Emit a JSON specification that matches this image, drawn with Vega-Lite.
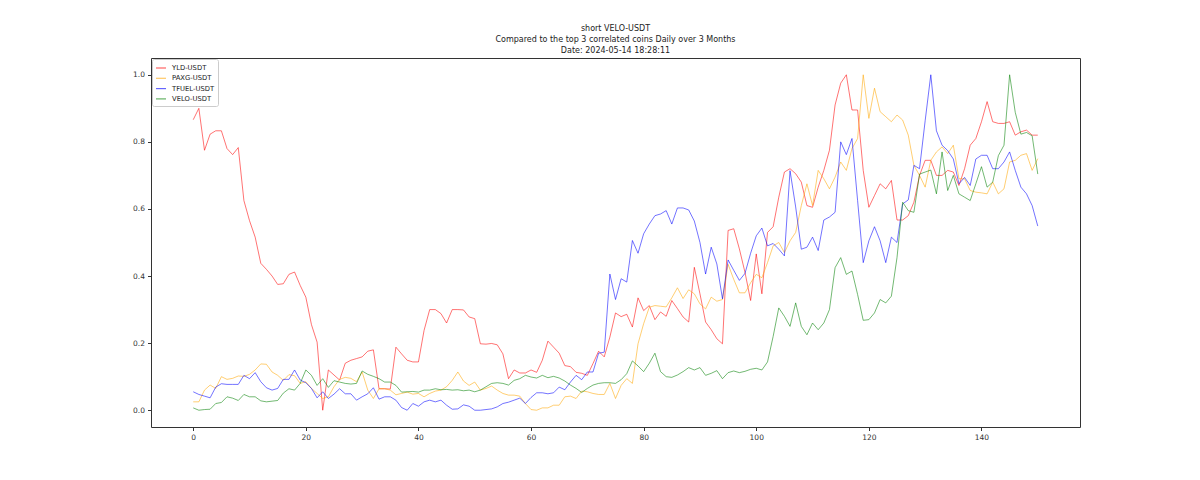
{
  "$schema": "https://vega.github.io/schema/vega-lite/v6.json",
  "width": 929,
  "height": 369,
  "autosize": {"type": "none"},
  "padding": {"left": 151, "top": 58, "right": 120, "bottom": 53},
  "background": "white",
  "title": {
    "text": ["short VELO-USDT", "Compared to the top 3 correlated coins Daily over 3 Months", "Date: 2024-05-14 18:28:11"],
    "anchor": "middle",
    "font": "DejaVu Sans",
    "fontSize": 8,
    "fontWeight": "normal",
    "color": "#222",
    "lineHeight": 10.8,
    "offset": 3
  },
  "config": {
    "view": {"stroke": "#333", "strokeWidth": 1},
    "axis": {
      "labelFont": "DejaVu Sans",
      "labelFontSize": 7.5,
      "labelColor": "#333",
      "grid": false,
      "domain": false,
      "tickColor": "#333",
      "tickSize": 3.5,
      "title": null
    }
  },
  "data": {
    "values": [
      {"i":0,"YLD-USDT":0.866,"PAXG-USDT":0.025,"TFUEL-USDT":0.055,"VELO-USDT":0.007},
      {"i":1,"YLD-USDT":0.9,"PAXG-USDT":0.025,"TFUEL-USDT":0.047,"VELO-USDT":0.0},
      {"i":2,"YLD-USDT":0.775,"PAXG-USDT":0.06,"TFUEL-USDT":0.042,"VELO-USDT":0.002},
      {"i":3,"YLD-USDT":0.823,"PAXG-USDT":0.075,"TFUEL-USDT":0.037,"VELO-USDT":0.003},
      {"i":4,"YLD-USDT":0.833,"PAXG-USDT":0.065,"TFUEL-USDT":0.069,"VELO-USDT":0.02},
      {"i":5,"YLD-USDT":0.833,"PAXG-USDT":0.1,"TFUEL-USDT":0.079,"VELO-USDT":0.023},
      {"i":6,"YLD-USDT":0.78,"PAXG-USDT":0.092,"TFUEL-USDT":0.077,"VELO-USDT":0.04},
      {"i":7,"YLD-USDT":0.762,"PAXG-USDT":0.095,"TFUEL-USDT":0.077,"VELO-USDT":0.036},
      {"i":8,"YLD-USDT":0.783,"PAXG-USDT":0.102,"TFUEL-USDT":0.077,"VELO-USDT":0.029},
      {"i":9,"YLD-USDT":0.625,"PAXG-USDT":0.101,"TFUEL-USDT":0.104,"VELO-USDT":0.047},
      {"i":10,"YLD-USDT":0.565,"PAXG-USDT":0.107,"TFUEL-USDT":0.094,"VELO-USDT":0.04},
      {"i":11,"YLD-USDT":0.516,"PAXG-USDT":0.12,"TFUEL-USDT":0.112,"VELO-USDT":0.04},
      {"i":12,"YLD-USDT":0.438,"PAXG-USDT":0.138,"TFUEL-USDT":0.085,"VELO-USDT":0.028},
      {"i":13,"YLD-USDT":0.42,"PAXG-USDT":0.137,"TFUEL-USDT":0.067,"VELO-USDT":0.025},
      {"i":14,"YLD-USDT":0.4,"PAXG-USDT":0.114,"TFUEL-USDT":0.06,"VELO-USDT":0.027},
      {"i":15,"YLD-USDT":0.375,"PAXG-USDT":0.104,"TFUEL-USDT":0.065,"VELO-USDT":0.029},
      {"i":16,"YLD-USDT":0.377,"PAXG-USDT":0.089,"TFUEL-USDT":0.092,"VELO-USDT":0.051},
      {"i":17,"YLD-USDT":0.405,"PAXG-USDT":0.106,"TFUEL-USDT":0.092,"VELO-USDT":0.064},
      {"i":18,"YLD-USDT":0.412,"PAXG-USDT":0.103,"TFUEL-USDT":0.12,"VELO-USDT":0.06},
      {"i":19,"YLD-USDT":0.372,"PAXG-USDT":0.08,"TFUEL-USDT":0.09,"VELO-USDT":0.08},
      {"i":20,"YLD-USDT":0.337,"PAXG-USDT":0.085,"TFUEL-USDT":0.082,"VELO-USDT":0.12},
      {"i":21,"YLD-USDT":0.255,"PAXG-USDT":0.065,"TFUEL-USDT":0.065,"VELO-USDT":0.104},
      {"i":22,"YLD-USDT":0.203,"PAXG-USDT":0.05,"TFUEL-USDT":0.037,"VELO-USDT":0.074},
      {"i":23,"YLD-USDT":0.0,"PAXG-USDT":0.035,"TFUEL-USDT":0.055,"VELO-USDT":0.094},
      {"i":24,"YLD-USDT":0.12,"PAXG-USDT":0.04,"TFUEL-USDT":0.035,"VELO-USDT":0.068},
      {"i":25,"YLD-USDT":0.105,"PAXG-USDT":0.07,"TFUEL-USDT":0.048,"VELO-USDT":0.088},
      {"i":26,"YLD-USDT":0.09,"PAXG-USDT":0.092,"TFUEL-USDT":0.064,"VELO-USDT":0.084},
      {"i":27,"YLD-USDT":0.14,"PAXG-USDT":0.098,"TFUEL-USDT":0.049,"VELO-USDT":0.08},
      {"i":28,"YLD-USDT":0.149,"PAXG-USDT":0.095,"TFUEL-USDT":0.049,"VELO-USDT":0.078},
      {"i":29,"YLD-USDT":0.154,"PAXG-USDT":0.085,"TFUEL-USDT":0.03,"VELO-USDT":0.08},
      {"i":30,"YLD-USDT":0.159,"PAXG-USDT":0.114,"TFUEL-USDT":0.04,"VELO-USDT":0.117},
      {"i":31,"YLD-USDT":0.176,"PAXG-USDT":0.06,"TFUEL-USDT":0.049,"VELO-USDT":0.107},
      {"i":32,"YLD-USDT":0.18,"PAXG-USDT":0.035,"TFUEL-USDT":0.067,"VELO-USDT":0.101},
      {"i":33,"YLD-USDT":0.064,"PAXG-USDT":0.064,"TFUEL-USDT":0.033,"VELO-USDT":0.094},
      {"i":34,"YLD-USDT":0.064,"PAXG-USDT":0.064,"TFUEL-USDT":0.04,"VELO-USDT":0.084},
      {"i":35,"YLD-USDT":0.063,"PAXG-USDT":0.06,"TFUEL-USDT":0.04,"VELO-USDT":0.084},
      {"i":36,"YLD-USDT":0.188,"PAXG-USDT":0.046,"TFUEL-USDT":0.03,"VELO-USDT":0.074},
      {"i":37,"YLD-USDT":0.168,"PAXG-USDT":0.05,"TFUEL-USDT":0.008,"VELO-USDT":0.054},
      {"i":38,"YLD-USDT":0.149,"PAXG-USDT":0.054,"TFUEL-USDT":0.0,"VELO-USDT":0.055},
      {"i":39,"YLD-USDT":0.144,"PAXG-USDT":0.048,"TFUEL-USDT":0.02,"VELO-USDT":0.056},
      {"i":40,"YLD-USDT":0.144,"PAXG-USDT":0.05,"TFUEL-USDT":0.012,"VELO-USDT":0.054},
      {"i":41,"YLD-USDT":0.238,"PAXG-USDT":0.04,"TFUEL-USDT":0.025,"VELO-USDT":0.06},
      {"i":42,"YLD-USDT":0.3,"PAXG-USDT":0.05,"TFUEL-USDT":0.03,"VELO-USDT":0.06},
      {"i":43,"YLD-USDT":0.3,"PAXG-USDT":0.057,"TFUEL-USDT":0.025,"VELO-USDT":0.064},
      {"i":44,"YLD-USDT":0.288,"PAXG-USDT":0.06,"TFUEL-USDT":0.03,"VELO-USDT":0.061},
      {"i":45,"YLD-USDT":0.26,"PAXG-USDT":0.07,"TFUEL-USDT":0.015,"VELO-USDT":0.062},
      {"i":46,"YLD-USDT":0.3,"PAXG-USDT":0.089,"TFUEL-USDT":0.003,"VELO-USDT":0.06},
      {"i":47,"YLD-USDT":0.3,"PAXG-USDT":0.114,"TFUEL-USDT":0.004,"VELO-USDT":0.061},
      {"i":48,"YLD-USDT":0.299,"PAXG-USDT":0.087,"TFUEL-USDT":0.016,"VELO-USDT":0.058},
      {"i":49,"YLD-USDT":0.278,"PAXG-USDT":0.074,"TFUEL-USDT":0.012,"VELO-USDT":0.06},
      {"i":50,"YLD-USDT":0.273,"PAXG-USDT":0.084,"TFUEL-USDT":0.0,"VELO-USDT":0.055},
      {"i":51,"YLD-USDT":0.198,"PAXG-USDT":0.06,"TFUEL-USDT":0.0,"VELO-USDT":0.06},
      {"i":52,"YLD-USDT":0.197,"PAXG-USDT":0.065,"TFUEL-USDT":0.002,"VELO-USDT":0.07},
      {"i":53,"YLD-USDT":0.199,"PAXG-USDT":0.072,"TFUEL-USDT":0.004,"VELO-USDT":0.08},
      {"i":54,"YLD-USDT":0.195,"PAXG-USDT":0.06,"TFUEL-USDT":0.01,"VELO-USDT":0.082},
      {"i":55,"YLD-USDT":0.168,"PAXG-USDT":0.05,"TFUEL-USDT":0.02,"VELO-USDT":0.08},
      {"i":56,"YLD-USDT":0.094,"PAXG-USDT":0.045,"TFUEL-USDT":0.024,"VELO-USDT":0.075},
      {"i":57,"YLD-USDT":0.12,"PAXG-USDT":0.045,"TFUEL-USDT":0.03,"VELO-USDT":0.089},
      {"i":58,"YLD-USDT":0.111,"PAXG-USDT":0.042,"TFUEL-USDT":0.036,"VELO-USDT":0.094},
      {"i":59,"YLD-USDT":0.111,"PAXG-USDT":0.02,"TFUEL-USDT":0.02,"VELO-USDT":0.104},
      {"i":60,"YLD-USDT":0.12,"PAXG-USDT":0.002,"TFUEL-USDT":0.038,"VELO-USDT":0.099},
      {"i":61,"YLD-USDT":0.113,"PAXG-USDT":0.0,"TFUEL-USDT":0.052,"VELO-USDT":0.096},
      {"i":62,"YLD-USDT":0.149,"PAXG-USDT":0.007,"TFUEL-USDT":0.052,"VELO-USDT":0.104},
      {"i":63,"YLD-USDT":0.206,"PAXG-USDT":0.007,"TFUEL-USDT":0.049,"VELO-USDT":0.097},
      {"i":64,"YLD-USDT":0.188,"PAXG-USDT":0.015,"TFUEL-USDT":0.052,"VELO-USDT":0.101},
      {"i":65,"YLD-USDT":0.17,"PAXG-USDT":0.015,"TFUEL-USDT":0.069,"VELO-USDT":0.096},
      {"i":66,"YLD-USDT":0.133,"PAXG-USDT":0.04,"TFUEL-USDT":0.061,"VELO-USDT":0.087},
      {"i":67,"YLD-USDT":0.13,"PAXG-USDT":0.042,"TFUEL-USDT":0.084,"VELO-USDT":0.075},
      {"i":68,"YLD-USDT":0.113,"PAXG-USDT":0.035,"TFUEL-USDT":0.104,"VELO-USDT":0.065},
      {"i":69,"YLD-USDT":0.11,"PAXG-USDT":0.057,"TFUEL-USDT":0.091,"VELO-USDT":0.053},
      {"i":70,"YLD-USDT":0.104,"PAXG-USDT":0.055,"TFUEL-USDT":0.114,"VELO-USDT":0.065},
      {"i":71,"YLD-USDT":0.139,"PAXG-USDT":0.05,"TFUEL-USDT":0.114,"VELO-USDT":0.075},
      {"i":72,"YLD-USDT":0.176,"PAXG-USDT":0.047,"TFUEL-USDT":0.17,"VELO-USDT":0.08},
      {"i":73,"YLD-USDT":0.159,"PAXG-USDT":0.047,"TFUEL-USDT":0.173,"VELO-USDT":0.082},
      {"i":74,"YLD-USDT":0.218,"PAXG-USDT":0.08,"TFUEL-USDT":0.406,"VELO-USDT":0.082},
      {"i":75,"YLD-USDT":0.29,"PAXG-USDT":0.035,"TFUEL-USDT":0.33,"VELO-USDT":0.08},
      {"i":76,"YLD-USDT":0.279,"PAXG-USDT":0.074,"TFUEL-USDT":0.392,"VELO-USDT":0.091},
      {"i":77,"YLD-USDT":0.286,"PAXG-USDT":0.094,"TFUEL-USDT":0.382,"VELO-USDT":0.109},
      {"i":78,"YLD-USDT":0.248,"PAXG-USDT":0.08,"TFUEL-USDT":0.506,"VELO-USDT":0.147},
      {"i":79,"YLD-USDT":0.335,"PAXG-USDT":0.198,"TFUEL-USDT":0.468,"VELO-USDT":0.132},
      {"i":80,"YLD-USDT":0.297,"PAXG-USDT":0.258,"TFUEL-USDT":0.526,"VELO-USDT":0.115},
      {"i":81,"YLD-USDT":0.312,"PAXG-USDT":0.307,"TFUEL-USDT":0.555,"VELO-USDT":0.14},
      {"i":82,"YLD-USDT":0.27,"PAXG-USDT":0.312,"TFUEL-USDT":0.58,"VELO-USDT":0.17},
      {"i":83,"YLD-USDT":0.293,"PAXG-USDT":0.31,"TFUEL-USDT":0.585,"VELO-USDT":0.115},
      {"i":84,"YLD-USDT":0.28,"PAXG-USDT":0.308,"TFUEL-USDT":0.595,"VELO-USDT":0.1},
      {"i":85,"YLD-USDT":0.327,"PAXG-USDT":0.335,"TFUEL-USDT":0.555,"VELO-USDT":0.098},
      {"i":86,"YLD-USDT":0.303,"PAXG-USDT":0.365,"TFUEL-USDT":0.603,"VELO-USDT":0.105},
      {"i":87,"YLD-USDT":0.278,"PAXG-USDT":0.333,"TFUEL-USDT":0.603,"VELO-USDT":0.115},
      {"i":88,"YLD-USDT":0.263,"PAXG-USDT":0.359,"TFUEL-USDT":0.597,"VELO-USDT":0.127},
      {"i":89,"YLD-USDT":0.426,"PAXG-USDT":0.347,"TFUEL-USDT":0.564,"VELO-USDT":0.12},
      {"i":90,"YLD-USDT":0.347,"PAXG-USDT":0.317,"TFUEL-USDT":0.5,"VELO-USDT":0.127},
      {"i":91,"YLD-USDT":0.263,"PAXG-USDT":0.302,"TFUEL-USDT":0.406,"VELO-USDT":0.104},
      {"i":92,"YLD-USDT":0.24,"PAXG-USDT":0.337,"TFUEL-USDT":0.486,"VELO-USDT":0.11},
      {"i":93,"YLD-USDT":0.213,"PAXG-USDT":0.325,"TFUEL-USDT":0.436,"VELO-USDT":0.118},
      {"i":94,"YLD-USDT":0.198,"PAXG-USDT":0.33,"TFUEL-USDT":0.332,"VELO-USDT":0.094},
      {"i":95,"YLD-USDT":0.536,"PAXG-USDT":0.435,"TFUEL-USDT":0.448,"VELO-USDT":0.112},
      {"i":96,"YLD-USDT":0.541,"PAXG-USDT":0.39,"TFUEL-USDT":0.417,"VELO-USDT":0.117},
      {"i":97,"YLD-USDT":0.481,"PAXG-USDT":0.35,"TFUEL-USDT":0.387,"VELO-USDT":0.112},
      {"i":98,"YLD-USDT":0.411,"PAXG-USDT":0.35,"TFUEL-USDT":0.408,"VELO-USDT":0.116},
      {"i":99,"YLD-USDT":0.327,"PAXG-USDT":0.38,"TFUEL-USDT":0.468,"VELO-USDT":0.122},
      {"i":100,"YLD-USDT":0.466,"PAXG-USDT":0.405,"TFUEL-USDT":0.52,"VELO-USDT":0.125},
      {"i":101,"YLD-USDT":0.347,"PAXG-USDT":0.395,"TFUEL-USDT":0.543,"VELO-USDT":0.12},
      {"i":102,"YLD-USDT":0.53,"PAXG-USDT":0.44,"TFUEL-USDT":0.49,"VELO-USDT":0.144},
      {"i":103,"YLD-USDT":0.547,"PAXG-USDT":0.49,"TFUEL-USDT":0.497,"VELO-USDT":0.22},
      {"i":104,"YLD-USDT":0.635,"PAXG-USDT":0.5,"TFUEL-USDT":0.48,"VELO-USDT":0.305},
      {"i":105,"YLD-USDT":0.71,"PAXG-USDT":0.47,"TFUEL-USDT":0.46,"VELO-USDT":0.28},
      {"i":106,"YLD-USDT":0.72,"PAXG-USDT":0.505,"TFUEL-USDT":0.714,"VELO-USDT":0.25},
      {"i":107,"YLD-USDT":0.705,"PAXG-USDT":0.53,"TFUEL-USDT":0.606,"VELO-USDT":0.32},
      {"i":108,"YLD-USDT":0.68,"PAXG-USDT":0.61,"TFUEL-USDT":0.48,"VELO-USDT":0.25},
      {"i":109,"YLD-USDT":0.61,"PAXG-USDT":0.675,"TFUEL-USDT":0.486,"VELO-USDT":0.225},
      {"i":110,"YLD-USDT":0.605,"PAXG-USDT":0.61,"TFUEL-USDT":0.516,"VELO-USDT":0.26},
      {"i":111,"YLD-USDT":0.665,"PAXG-USDT":0.715,"TFUEL-USDT":0.476,"VELO-USDT":0.24},
      {"i":112,"YLD-USDT":0.715,"PAXG-USDT":0.69,"TFUEL-USDT":0.567,"VELO-USDT":0.26},
      {"i":113,"YLD-USDT":0.775,"PAXG-USDT":0.66,"TFUEL-USDT":0.576,"VELO-USDT":0.3},
      {"i":114,"YLD-USDT":0.91,"PAXG-USDT":0.695,"TFUEL-USDT":0.59,"VELO-USDT":0.425},
      {"i":115,"YLD-USDT":0.975,"PAXG-USDT":0.74,"TFUEL-USDT":0.8,"VELO-USDT":0.455},
      {"i":116,"YLD-USDT":1.0,"PAXG-USDT":0.715,"TFUEL-USDT":0.762,"VELO-USDT":0.405},
      {"i":117,"YLD-USDT":0.895,"PAXG-USDT":0.78,"TFUEL-USDT":0.81,"VELO-USDT":0.415},
      {"i":118,"YLD-USDT":0.895,"PAXG-USDT":0.81,"TFUEL-USDT":0.625,"VELO-USDT":0.345},
      {"i":119,"YLD-USDT":0.715,"PAXG-USDT":1.0,"TFUEL-USDT":0.44,"VELO-USDT":0.268},
      {"i":120,"YLD-USDT":0.605,"PAXG-USDT":0.87,"TFUEL-USDT":0.505,"VELO-USDT":0.27},
      {"i":121,"YLD-USDT":0.64,"PAXG-USDT":0.96,"TFUEL-USDT":0.547,"VELO-USDT":0.29},
      {"i":122,"YLD-USDT":0.675,"PAXG-USDT":0.89,"TFUEL-USDT":0.505,"VELO-USDT":0.33},
      {"i":123,"YLD-USDT":0.66,"PAXG-USDT":0.875,"TFUEL-USDT":0.44,"VELO-USDT":0.32},
      {"i":124,"YLD-USDT":0.685,"PAXG-USDT":0.86,"TFUEL-USDT":0.516,"VELO-USDT":0.34},
      {"i":125,"YLD-USDT":0.567,"PAXG-USDT":0.88,"TFUEL-USDT":0.5,"VELO-USDT":0.455},
      {"i":126,"YLD-USDT":0.567,"PAXG-USDT":0.865,"TFUEL-USDT":0.615,"VELO-USDT":0.62},
      {"i":127,"YLD-USDT":0.58,"PAXG-USDT":0.82,"TFUEL-USDT":0.627,"VELO-USDT":0.595},
      {"i":128,"YLD-USDT":0.62,"PAXG-USDT":0.73,"TFUEL-USDT":0.73,"VELO-USDT":0.59},
      {"i":129,"YLD-USDT":0.7,"PAXG-USDT":0.7,"TFUEL-USDT":0.72,"VELO-USDT":0.704},
      {"i":130,"YLD-USDT":0.745,"PAXG-USDT":0.665,"TFUEL-USDT":0.863,"VELO-USDT":0.71},
      {"i":131,"YLD-USDT":0.745,"PAXG-USDT":0.745,"TFUEL-USDT":1.0,"VELO-USDT":0.716},
      {"i":132,"YLD-USDT":0.7,"PAXG-USDT":0.77,"TFUEL-USDT":0.833,"VELO-USDT":0.645},
      {"i":133,"YLD-USDT":0.7,"PAXG-USDT":0.785,"TFUEL-USDT":0.79,"VELO-USDT":0.77},
      {"i":134,"YLD-USDT":0.715,"PAXG-USDT":0.765,"TFUEL-USDT":0.774,"VELO-USDT":0.655},
      {"i":135,"YLD-USDT":0.71,"PAXG-USDT":0.79,"TFUEL-USDT":0.749,"VELO-USDT":0.7},
      {"i":136,"YLD-USDT":0.67,"PAXG-USDT":0.69,"TFUEL-USDT":0.675,"VELO-USDT":0.645},
      {"i":137,"YLD-USDT":0.72,"PAXG-USDT":0.69,"TFUEL-USDT":0.694,"VELO-USDT":0.635},
      {"i":138,"YLD-USDT":0.79,"PAXG-USDT":0.655,"TFUEL-USDT":0.67,"VELO-USDT":0.625},
      {"i":139,"YLD-USDT":0.81,"PAXG-USDT":0.65,"TFUEL-USDT":0.749,"VELO-USDT":0.675},
      {"i":140,"YLD-USDT":0.86,"PAXG-USDT":0.648,"TFUEL-USDT":0.76,"VELO-USDT":0.726},
      {"i":141,"YLD-USDT":0.92,"PAXG-USDT":0.645,"TFUEL-USDT":0.76,"VELO-USDT":0.665},
      {"i":142,"YLD-USDT":0.86,"PAXG-USDT":0.68,"TFUEL-USDT":0.72,"VELO-USDT":0.68},
      {"i":143,"YLD-USDT":0.855,"PAXG-USDT":0.645,"TFUEL-USDT":0.72,"VELO-USDT":0.759},
      {"i":144,"YLD-USDT":0.855,"PAXG-USDT":0.66,"TFUEL-USDT":0.74,"VELO-USDT":0.79},
      {"i":145,"YLD-USDT":0.86,"PAXG-USDT":0.74,"TFUEL-USDT":0.77,"VELO-USDT":1.0},
      {"i":146,"YLD-USDT":0.82,"PAXG-USDT":0.745,"TFUEL-USDT":0.715,"VELO-USDT":0.888},
      {"i":147,"YLD-USDT":0.83,"PAXG-USDT":0.76,"TFUEL-USDT":0.665,"VELO-USDT":0.823},
      {"i":148,"YLD-USDT":0.835,"PAXG-USDT":0.765,"TFUEL-USDT":0.645,"VELO-USDT":0.828},
      {"i":149,"YLD-USDT":0.82,"PAXG-USDT":0.715,"TFUEL-USDT":0.61,"VELO-USDT":0.818},
      {"i":150,"YLD-USDT":0.82,"PAXG-USDT":0.75,"TFUEL-USDT":0.549,"VELO-USDT":0.704}
    ]
  },
  "transform": [
    {"fold": ["YLD-USDT", "PAXG-USDT", "TFUEL-USDT", "VELO-USDT"], "as": ["coin", "value"]}
  ],
  "mark": {"type": "line", "strokeWidth": 1, "opacity": 0.55, "interpolate": "linear"},
  "encoding": {
    "x": {
      "field": "i",
      "type": "quantitative",
      "scale": {"domain": [-7.5, 157.5], "nice": false, "zero": false},
      "axis": {"values": [0, 20, 40, 60, 80, 100, 120, 140], "format": "d", "labelPadding": 3}
    },
    "y": {
      "field": "value",
      "type": "quantitative",
      "scale": {"domain": [-0.05, 1.05], "nice": false, "zero": false},
      "axis": {"values": [0, 0.2, 0.4, 0.6, 0.8, 1.0], "format": ".1f", "labelPadding": 3}
    },
    "color": {
      "field": "coin",
      "type": "nominal",
      "sort": ["YLD-USDT", "PAXG-USDT", "TFUEL-USDT", "VELO-USDT"],
      "scale": {"domain": ["YLD-USDT", "PAXG-USDT", "TFUEL-USDT", "VELO-USDT"], "range": ["#ff0000", "#ffa500", "#0000ff", "#008000"]},
      "legend": {
        "title": null,
        "orient": "none",
        "legendX": 1,
        "legendY": 1,
        "fillColor": "white",
        "strokeColor": "#ccc",
        "padding": 3,
        "cornerRadius": 2,
        "symbolType": "stroke",
        "symbolSize": 100,
        "symbolStrokeWidth": 1.2,
        "symbolOpacity": 0.6,
        "labelFont": "DejaVu Sans",
        "labelFontSize": 6.8,
        "labelColor": "#222",
        "rowPadding": 0.3,
        "labelOffset": 5
      }
    },
    "strokeWidth": {
      "condition": {"test": "datum.coin === 'VELO-USDT'", "value": 1.5},
      "value": 1
    },
    "order": {"field": "i", "type": "quantitative"}
  }
}
